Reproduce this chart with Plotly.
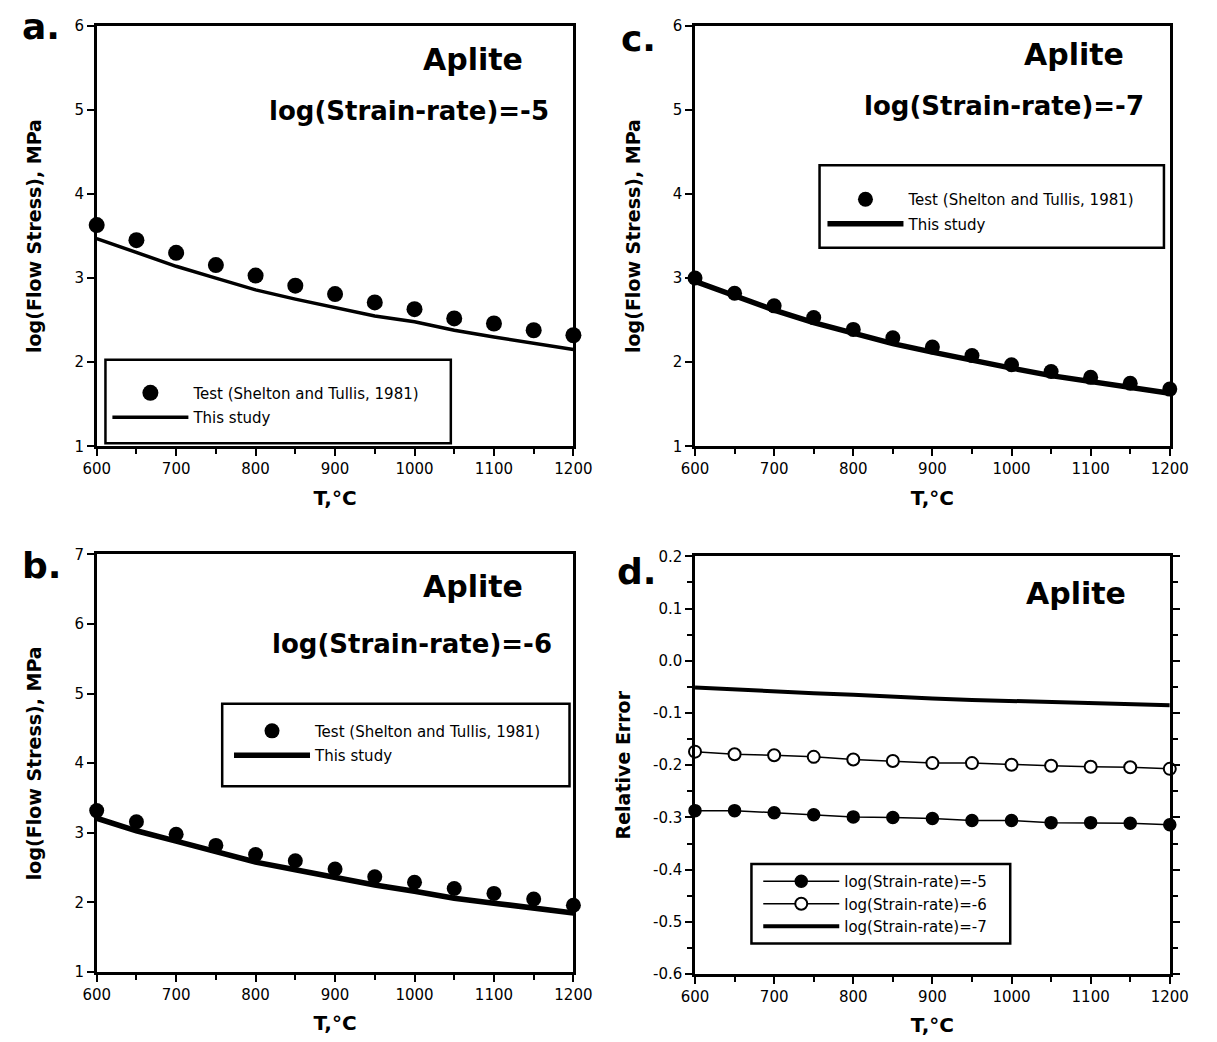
import plotly.graph_objects as go

# ---------------- data ----------------
T = [600, 650, 700, 750, 800, 850, 900, 950, 1000, 1050, 1100, 1150, 1200]

# panel a: log(strain-rate) = -5
a_test = [3.63, 3.45, 3.30, 3.155, 3.03, 2.91, 2.81, 2.71, 2.63, 2.52, 2.46, 2.38, 2.32]
a_model = [3.47, 3.31, 3.14, 3.00, 2.86, 2.75, 2.65, 2.55, 2.48, 2.38, 2.30, 2.22, 2.15]

# panel b: log(strain-rate) = -6
b_test = [3.32, 3.16, 2.98, 2.82, 2.69, 2.60, 2.48, 2.37, 2.29, 2.20, 2.13, 2.05, 1.96]
b_model = [3.21, 3.03, 2.88, 2.73, 2.58, 2.47, 2.35, 2.25, 2.16, 2.06, 1.99, 1.92, 1.85]

# panel c: log(strain-rate) = -7
c_test = [3.00, 2.82, 2.67, 2.53, 2.39, 2.29, 2.18, 2.08, 1.97, 1.89, 1.82, 1.75, 1.68]
c_model = [2.96, 2.79, 2.62, 2.47, 2.34, 2.22, 2.12, 2.02, 1.93, 1.84, 1.77, 1.70, 1.63]

# panel d: relative error
err_5 = [-0.287, -0.287, -0.291, -0.295, -0.299, -0.300, -0.302, -0.306, -0.306, -0.310, -0.310, -0.311, -0.314]
err_6 = [-0.174, -0.179, -0.181, -0.184, -0.189, -0.192, -0.196, -0.196, -0.199, -0.201, -0.203, -0.204, -0.207]
err_7 = [-0.051, -0.055, -0.058, -0.062, -0.065, -0.069, -0.072, -0.075, -0.077, -0.080, -0.082, -0.084, -0.085]

x_ticks = [600, 700, 800, 900, 1000, 1100, 1200]
x_ticklabels = ["600", "700", "800", "900", "1000", "1100", "1200"]
d_yticks = [0.2, 0.1, 0.0, -0.1, -0.2, -0.3, -0.4, -0.5, -0.6]
d_yticklabels = ["0.2", "0.1", "0.0", "-0.1", "-0.2", "-0.3", "-0.4", "-0.5", "-0.6"]

test_name = "Test (Shelton and Tullis, 1981)"
model_name = "This study"
rate_names = ["log(Strain-rate)=-5", "log(Strain-rate)=-6", "log(Strain-rate)=-7"]

# ---------------- layout helpers ----------------
W, H = 1217, 1042
FONT = "DejaVu Sans"


def px(x):
    return x / W


def py(y):
    return 1 - y / H


fig = go.Figure()

# panel a (xaxis / yaxis), legend
fig.add_trace(go.Scatter(x=T, y=a_test, mode="markers", name=test_name,
                         marker=dict(color="black", size=16), cliponaxis=False,
                         xaxis="x", yaxis="y", legend="legend", legendgroup="a1"))
fig.add_trace(go.Scatter(x=T, y=a_model, mode="lines", name=model_name,
                         line=dict(color="black", width=3.5), cliponaxis=False,
                         xaxis="x", yaxis="y", legend="legend", legendgroup="a2"))
# panel c (xaxis2 / yaxis2), legend2
fig.add_trace(go.Scatter(x=T, y=c_model, mode="lines", name=model_name,
                         line=dict(color="black", width=5.5), cliponaxis=False,
                         xaxis="x2", yaxis="y2", legend="legend2", legendgroup="c2",
                         legendrank=2))
fig.add_trace(go.Scatter(x=T, y=c_test, mode="markers", name=test_name,
                         marker=dict(color="black", size=15), cliponaxis=False,
                         xaxis="x2", yaxis="y2", legend="legend2", legendgroup="c1",
                         legendrank=1))
# panel b (xaxis3 / yaxis3), legend3
fig.add_trace(go.Scatter(x=T, y=b_model, mode="lines", name=model_name,
                         line=dict(color="black", width=5.5), cliponaxis=False,
                         xaxis="x3", yaxis="y3", legend="legend3", legendgroup="b2",
                         legendrank=2))
fig.add_trace(go.Scatter(x=T, y=b_test, mode="markers", name=test_name,
                         marker=dict(color="black", size=15), cliponaxis=False,
                         xaxis="x3", yaxis="y3", legend="legend3", legendgroup="b1",
                         legendrank=1))
# panel d (xaxis4 / yaxis4), legend4
fig.add_trace(go.Scatter(x=T, y=err_5, mode="lines+markers", name=rate_names[0],
                         line=dict(color="black", width=1.5),
                         marker=dict(color="black", size=12, line=dict(color="black", width=1.5)),
                         cliponaxis=False, xaxis="x4", yaxis="y4", legend="legend4",
                         legendgroup="d1"))
fig.add_trace(go.Scatter(x=T, y=err_6, mode="lines+markers", name=rate_names[1],
                         line=dict(color="black", width=1.5),
                         marker=dict(color="white", size=12, line=dict(color="black", width=2)),
                         cliponaxis=False, xaxis="x4", yaxis="y4", legend="legend4",
                         legendgroup="d2"))
fig.add_trace(go.Scatter(x=T, y=err_7, mode="lines", name=rate_names[2],
                         line=dict(color="black", width=4),
                         cliponaxis=False, xaxis="x4", yaxis="y4", legend="legend4",
                         legendgroup="d3"))

tickfont = dict(family=FONT, size=15, color="black")
xtitlefont = dict(family=FONT, size=20, color="black", weight="bold")
ytitlefont = dict(family=FONT, size=19, color="black", weight="bold")

common_x = dict(range=[600, 1200], tickvals=x_ticks, ticktext=x_ticklabels,
                ticks="outside", ticklen=7, tickwidth=2, tickcolor="black",
                showline=True, linewidth=2.5, linecolor="black", mirror=True,
                showgrid=False, zeroline=False, tickfont=tickfont,
                minor=dict(dtick=50, tick0=600, ticks="outside", ticklen=5,
                           tickwidth=2, tickcolor="black", showgrid=False),
                title=dict(text="T,°C", font=xtitlefont, standoff=14))

common_y = dict(ticks="outside", ticklen=7, tickwidth=2, tickcolor="black",
                showline=True, linewidth=2.5, linecolor="black", mirror=True,
                showgrid=False, zeroline=False, tickfont=tickfont, dtick=1,
                title=dict(text="log(Flow Stress), MPa", font=ytitlefont, standoff=28))

xa_dom = [px(85), px(575)]
xc_dom = [px(700), px(1188)]

fig.update_layout(
    width=W, height=H,
    margin=dict(l=0, r=0, t=0, b=0),
    paper_bgcolor="white", plot_bgcolor="white",
    font=dict(family=FONT, color="black"),
    xaxis=dict(domain=xa_dom, anchor="y", **common_x),
    yaxis=dict(domain=[py(445), py(17)], anchor="x", range=[1, 6], **common_y),
    xaxis2=dict(domain=xc_dom, anchor="y2", **common_x),
    yaxis2=dict(domain=[py(445), py(17)], anchor="x2", range=[1, 6], **common_y),
    xaxis3=dict(domain=xa_dom, anchor="y3", **common_x),
    yaxis3=dict(domain=[py(980), py(555)], anchor="x3", range=[1, 7], **common_y),
    xaxis4=dict(domain=xc_dom, anchor="y4", **common_x),
    yaxis4=dict(domain=[py(982), py(557)], anchor="x4", range=[-0.6, 0.2],
                tickvals=d_yticks, ticktext=d_yticklabels,
                ticks="outside", ticklen=7, tickwidth=2, tickcolor="black",
                showline=True, linewidth=2.5, linecolor="black", mirror="allticks",
                showgrid=False, zeroline=False, tickfont=tickfont,
                minor=dict(dtick=0.05, tick0=0, ticks="outside", ticklen=5,
                           tickwidth=2, tickcolor="black", showgrid=False),
                title=dict(text="Relative Error", font=ytitlefont, standoff=18)),
    showlegend=True,
)

leg_font = dict(family=FONT, size=15, color="black")
leg_common = dict(bgcolor="rgba(0,0,0,0)", borderwidth=0, font=leg_font,
                  itemwidth=76, tracegroupgap=2, xanchor="left", yanchor="top",
                  itemclick=False, itemdoubleclick=False)
fig.update_layout(
    legend=dict(x=px(96), y=py(374), **leg_common),
    legend2=dict(x=px(831), y=py(177), **leg_common),
    legend3=dict(x=px(221), y=py(718), **leg_common),
    legend4=dict(x=px(765), y=py(871), bgcolor="rgba(0,0,0,0)", borderwidth=0,
                 font=dict(family=FONT, size=15, color="black"), itemwidth=76,
                 tracegroupgap=0, xanchor="left", yanchor="top",
                 itemclick=False, itemdoubleclick=False),
)

# legend frames
frames = [(94, 357, 449, 442), (828, 159, 1182, 243), (214, 707, 571, 791), (758, 870, 1024, 951)]
for x0, y0, x1, y1 in frames:
    fig.add_shape(type="rect", xref="paper", yref="paper",
                  x0=px(x0), x1=px(x1), y0=py(y1), y1=py(y0),
                  line=dict(color="black", width=2.5), fillcolor="rgba(0,0,0,0)")

# text annotations
big = dict(family=FONT, size=36, color="black", weight="bold")
aplite_font = dict(family=FONT, size=30, color="black", weight="bold")
rate_font = dict(family=FONT, size=26, color="black", weight="bold")


def ann(text, x, y, font, xanchor="center"):
    fig.add_annotation(text=text, x=px(x), y=py(y), xref="paper", yref="paper",
                       showarrow=False, font=font, xanchor=xanchor, yanchor="middle")


ann("a.", 6, 18, big, "left")
ann("c.", 622, 30, big, "left")
ann("b.", 6, 566, big, "left")
ann("d.", 618, 572, big, "left")

ann("Aplite", 472, 51, aplite_font)
ann("Aplite", 1090, 46, aplite_font)
ann("Aplite", 472, 588, aplite_font)
ann("Aplite", 1092, 595, aplite_font)

ann(rate_names[0], 406, 104, rate_font)
ann(rate_names[2], 1018, 99, rate_font)
ann(rate_names[1], 409, 646, rate_font)

fig.write_html("out.html")
